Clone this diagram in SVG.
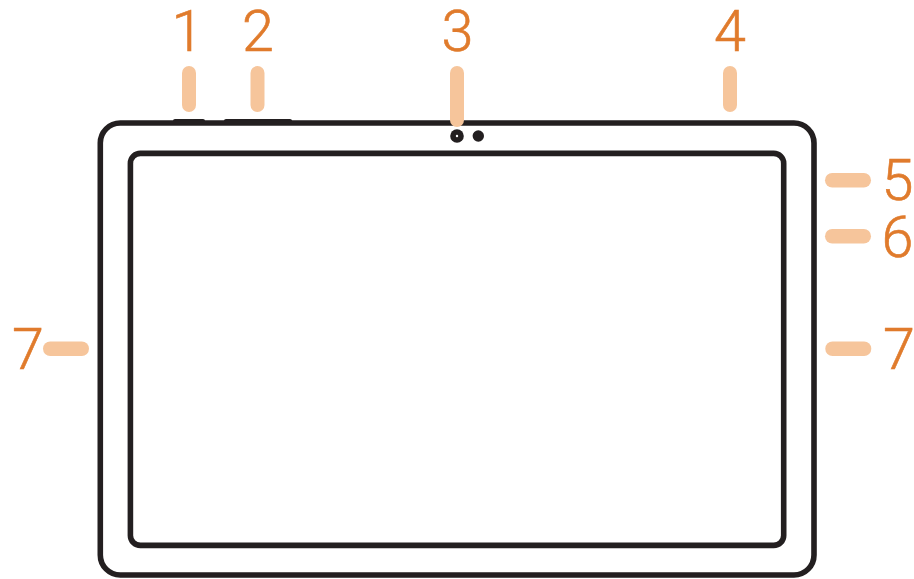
<svg xmlns="http://www.w3.org/2000/svg" width="914" height="579" viewBox="0 0 914 579">
<style>
.n{font-family:"Roboto","Liberation Sans",sans-serif;font-weight:300;font-size:57.5px;fill:#E07B2C;stroke:#E07B2C;stroke-width:.6;text-anchor:middle}
.p{fill:#F6C59B}
.s{fill:none;stroke:#231F20;stroke-width:5.6}
.k{fill:#231F20}
</style>
<rect width="914" height="579" fill="#fff"/>
<g id="tablet">
<path class="k" d="M173 123V120.5Q173 119 175 119H203Q205 119 205 120.5V123Z"/>
<path class="k" d="M224 123V120.5Q224 119 226 119H290Q292 119 292 120.5V123Z"/>
<rect class="s" x="100.3" y="123" width="713.7" height="452" rx="20"/>
<rect class="s" x="130.4" y="153.4" width="653.3" height="392" rx="10"/>
<circle class="k" cx="457" cy="136" r="6.8"/><circle cx="457" cy="136" r="1.2" fill="#fff"/>
<circle class="k" cx="478.3" cy="136" r="5.7"/>
</g>
<g id="connectors">
<rect class="p" x="182" y="66" width="14" height="46" rx="7"/>
<rect class="p" x="250.5" y="66" width="14" height="46" rx="7"/>
<rect class="p" x="450" y="66" width="14" height="61" rx="7"/>
<rect class="p" x="723" y="66" width="14" height="46" rx="7"/>
<rect class="p" x="825" y="173" width="46" height="14.5" rx="7.2"/>
<rect class="p" x="825" y="229" width="46" height="14.5" rx="7.2"/>
<rect class="p" x="43" y="341.5" width="46" height="14.5" rx="7.2"/>
<rect class="p" x="825.3" y="341.5" width="46" height="14.5" rx="7.2"/>
</g>
<g id="label-1"><text class="n" x="187.5" y="51">1</text></g>
<g id="label-2"><text class="n" x="258" y="51">2</text></g>
<g id="label-3"><text class="n" x="457.5" y="51">3</text></g>
<g id="label-4"><text class="n" x="730" y="51">4</text></g>
<g id="label-5"><text class="n" x="897.5" y="200">5</text></g>
<g id="label-6"><text class="n" x="897.5" y="256.5">6</text></g>
<g id="label-7a"><text class="n" x="28" y="369">7</text></g>
<g id="label-7b"><text class="n" x="899" y="369">7</text></g>
</svg>
